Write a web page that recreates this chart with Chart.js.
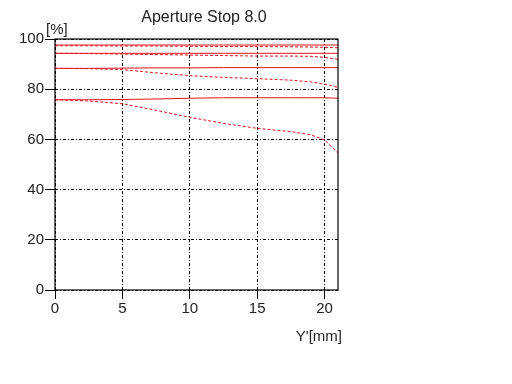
<!DOCTYPE html>
<html><head><meta charset="utf-8">
<script src="https://cdn.jsdelivr.net/npm/chart.js@4"></script>
<style>html,body{margin:0;padding:0;background:#fff}#wrap{width:512px;height:384px}</style>
</head><body><div id="wrap"><canvas id="c" width="512" height="384"></canvas></div>
<script>
const titleText = "Aperture Stop 8.0";
const yUnit = "[%]";
const xUnit = "Y'[mm]";
const xTicks = [0, 5, 10, 15, 20];
const yTicks = [0, 20, 40, 60, 80, 100];
const xs = [0, 2.5, 5, 7.5, 10, 12.5, 15, 17.5, 19, 20, 20.5, 21];
const s1 = [97.6, 97.6, 97.6, 97.6, 97.6, 97.6, 97.6, 97.6, 97.6, 97.6, 97.6, 97.6];
const m1 = [97.3, 97.3, 97.2, 97.2, 97.1, 97.0, 97.0, 96.9, 96.8, 96.7, 96.6, 96.5];
const s2 = [94.3, 94.3, 94.3, 94.3, 94.3, 94.3, 94.3, 94.3, 94.3, 94.3, 94.3, 94.3];
const m2 = [94.3, 94.2, 94.0, 93.8, 93.6, 93.4, 93.2, 93.2, 93.1, 92.7, 92.3, 91.9];
const s3 = [88.3, 88.3, 88.4, 88.5, 88.5, 88.6, 88.6, 88.6, 88.6, 88.6, 88.6, 88.6];
const m3 = [88.3, 88.2, 87.8, 86.5, 85.4, 84.7, 84.2, 83.6, 82.9, 82.0, 81.4, 80.7];
const s4 = [75.8, 75.8, 75.9, 76.1, 76.4, 76.6, 76.6, 76.6, 76.6, 76.6, 76.5, 76.4];
const m4 = [75.8, 75.3, 74.2, 71.6, 68.8, 66.4, 64.4, 63.1, 61.8, 59.8, 57.1, 54.7];

const red = 'rgb(228,18,28)';
function ds(vals, dashed){
  return {data: xs.map((x,i)=>({x:x, y:vals[i]})), borderColor: red, borderWidth: 1,
    borderDash: dashed ? [3,2] : [], pointRadius: 0, showLine: true, fill: false, tension: 0};
}
const FONT = "'Liberation Sans', Arial, sans-serif";
const txt = '#222';
const extra = {
  id: 'extra',
  afterDraw(chart){
    const {ctx, chartArea: a} = chart;
    ctx.save();
    ctx.strokeStyle = '#000'; ctx.lineWidth = 1.2; ctx.setLineDash([]);
    ctx.strokeRect(a.left, a.top, a.right - a.left, a.bottom - a.top);
    ctx.fillStyle = txt;
    ctx.font = "16px " + FONT;
    ctx.textAlign = 'center'; ctx.textBaseline = 'alphabetic';
    ctx.fillText(titleText, 204, 22);
    ctx.font = "15px " + FONT;
    ctx.textAlign = 'left';
    ctx.fillText(yUnit, 46, 34);
    ctx.textAlign = 'right';
    ctx.fillText(xUnit, 342, 341);
    ctx.restore();
  }
};
new Chart(document.getElementById('c'), {
  type: 'scatter',
  data: {datasets: [ds(s1,false), ds(m1,true), ds(s2,false), ds(m2,true), ds(s3,false), ds(m3,true), ds(s4,false), ds(m4,true)]},
  options: {
    responsive: false, animation: false, devicePixelRatio: 1,
    layout: {padding: {left: 0, top: 39, right: 174, bottom: 0}},
    plugins: {legend: {display: false}, tooltip: {enabled: false}, title: {display: false}},
    scales: {
      x: {type: 'linear', min: 0, max: 21,
        afterBuildTicks(scale){ scale.ticks = xTicks.map(v=>({value:v})); },
        afterFit(scale){ scale.height = 94; },
        ticks: {color: txt, font: {size: 15, family: FONT}, padding: 1, maxRotation: 0, autoSkip: false},
        grid: {color: '#000', lineWidth: 1, drawTicks: true, tickLength: 9,
               tickColor: '#000', tickBorderDash: [], tickWidth: 1},
        border: {display: false, dash: [3,2,1,2]}
      },
      y: {type: 'linear', min: 0, max: 100,
        afterBuildTicks(scale){ scale.ticks = yTicks.map(v=>({value:v})); },
        afterFit(scale){ scale.width = 55; },
        ticks: {color: txt, font: {size: 15, family: FONT}, padding: 1},
        grid: {color: '#000', lineWidth: 1, drawTicks: true, tickLength: 10,
               tickColor: '#000', tickBorderDash: [], tickWidth: 1},
        border: {display: false, dash: [3,2,1,2]}
      }
    }
  },
  plugins: [extra]
});
</script></body></html>
